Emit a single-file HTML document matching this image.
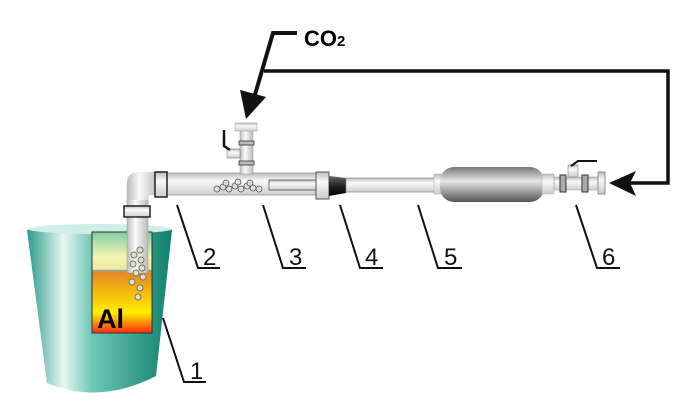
<!DOCTYPE html>
<html><head><style>html,body{margin:0;padding:0;background:#fff}svg{display:block}</style></head><body>
<svg width="700" height="419" viewBox="0 0 700 419" xmlns="http://www.w3.org/2000/svg" font-family="Liberation Sans, sans-serif">
<defs>
<linearGradient id="bk" x1="0" x2="1" y1="0" y2="0">
<stop offset="0" stop-color="#2a9a8a"/><stop offset="0.25" stop-color="#e8f7f2"/><stop offset="0.45" stop-color="#6cc7b4"/><stop offset="1" stop-color="#11806e"/></linearGradient>
<linearGradient id="win" x1="0" x2="0" y1="0" y2="1">
<stop offset="0" stop-color="#7fcfa5"/><stop offset="0.25" stop-color="#f5f6b0"/><stop offset="0.37" stop-color="#e8e8a0"/><stop offset="0.38" stop-color="#999"/><stop offset="0.41" stop-color="#e88a20"/><stop offset="0.8" stop-color="#ffee00"/><stop offset="1" stop-color="#ff2a10"/></linearGradient>
<linearGradient id="pv" x1="0" x2="0" y1="0" y2="1"><stop offset="0" stop-color="#bbb"/><stop offset="0.35" stop-color="#fafafa"/><stop offset="1" stop-color="#ccc"/></linearGradient>
<linearGradient id="ph" x1="0" x2="1" y1="0" y2="0"><stop offset="0" stop-color="#bbb"/><stop offset="0.4" stop-color="#fafafa"/><stop offset="1" stop-color="#bbb"/></linearGradient>
<linearGradient id="cyl" x1="0" x2="0" y1="0" y2="1"><stop offset="0" stop-color="#777"/><stop offset="0.4" stop-color="#e6e6e6"/><stop offset="1" stop-color="#555"/></linearGradient>
<linearGradient id="blk" x1="0" x2="0" y1="0" y2="1"><stop offset="0" stop-color="#666"/><stop offset="0.5" stop-color="#222"/><stop offset="1" stop-color="#000"/></linearGradient>
</defs>
<path d="M27 230 Q100 220 172 230 L156 376 Q100 405 47 383 Z" fill="url(#bk)"/>
<ellipse cx="100" cy="229" rx="72" ry="5" fill="#cfeee6"/>
<rect x="92" y="232" width="60" height="101" fill="url(#win)" stroke="#333" stroke-width="1"/>
<text x="97" y="328" font-size="27" font-weight="bold" fill="#000">Al</text>
<rect x="127" y="185" width="21" height="88" fill="url(#ph)" stroke="#999" stroke-width="0.5"/>
<path d="M127 195 L127 182 Q127 172 140 172 L158 172 L158 195 L148 195 L148 200 L127 200 Z" fill="url(#ph)"/>
<rect x="124" y="206" width="26" height="11" fill="url(#pv)" stroke="#222" stroke-width="1.5"/>
<g fill="#ddd" stroke="#775" stroke-width="1">
<circle cx="140" cy="250" r="3"/><circle cx="134" cy="255" r="3"/><circle cx="141" cy="260" r="3"/><circle cx="133" cy="264" r="3"/><circle cx="142" cy="268" r="3"/><circle cx="136" cy="273" r="3"/><circle cx="143" cy="277" r="3"/><circle cx="132" cy="282" r="3"/><circle cx="140" cy="288" r="3"/><circle cx="138" cy="297" r="3"/></g>
<rect x="160" y="173" width="158" height="22" fill="url(#pv)" stroke="#999" stroke-width="0.8"/>
<rect x="155" y="172" width="12" height="25" fill="url(#pv)" stroke="#222" stroke-width="1.5"/>
<rect x="269" y="180" width="48" height="10" fill="url(#pv)" stroke="#555" stroke-width="0.8"/>
<g fill="#ddd" stroke="#555" stroke-width="0.8">
<circle cx="217" cy="189" r="3"/><circle cx="223" cy="187" r="3"/><circle cx="229" cy="189" r="3"/><circle cx="235" cy="186" r="3"/><circle cx="241" cy="189" r="3"/><circle cx="247" cy="186" r="3"/><circle cx="253" cy="188" r="3"/><circle cx="259" cy="189" r="3"/><circle cx="226" cy="183" r="3"/><circle cx="238" cy="182" r="3"/><circle cx="250" cy="183" r="3"/></g>
<rect x="240" y="128" width="13" height="46" fill="url(#ph)" stroke="#999" stroke-width="0.5"/>
<rect x="235" y="123" width="22" height="8" fill="url(#pv)" stroke="#999" stroke-width="0.5"/>
<rect x="239" y="141" width="15" height="4" fill="#bbb" stroke="#333" stroke-width="0.8"/>
<rect x="239" y="161" width="15" height="4" fill="#bbb" stroke="#333" stroke-width="0.8"/>
<rect x="227" y="149" width="13" height="9" fill="url(#pv)" stroke="#666" stroke-width="0.5"/>
<path d="M224 130 L224 146 L230 150" stroke="#111" stroke-width="2.5" fill="none"/>
<rect x="316" y="172" width="13" height="27" fill="url(#pv)" stroke="#555" stroke-width="1"/>
<path d="M329 176 L346 178 L346 193 L329 196 Z" fill="url(#blk)"/>
<rect x="346" y="178" width="92" height="14" fill="url(#pv)" stroke="#888" stroke-width="0.7"/>
<rect x="434" y="174" width="12" height="20" fill="url(#pv)" stroke="#aaa" stroke-width="0.5"/>
<rect x="440" y="167" width="104" height="35" rx="14" fill="url(#cyl)"/>
<rect x="542" y="174" width="12" height="20" fill="url(#pv)" stroke="#aaa" stroke-width="0.5"/>
<rect x="554" y="177" width="46" height="13" fill="url(#pv)" stroke="#999" stroke-width="0.5"/>
<rect x="560" y="175" width="6" height="17" fill="#aaa" stroke="#333" stroke-width="1"/>
<rect x="582" y="175" width="6" height="17" fill="#aaa" stroke="#333" stroke-width="1"/>
<rect x="598" y="172" width="7" height="22" fill="url(#pv)" stroke="#777" stroke-width="0.8"/>
<rect x="568" y="165" width="10" height="12" fill="url(#pv)" stroke="#777" stroke-width="0.5"/>
<path d="M571 166 L578 161 L597 161" stroke="#111" stroke-width="2" fill="none"/>
<text x="304" y="46" font-size="22" font-weight="bold">CO<tspan font-size="15">2</tspan></text>
<path d="M297 33 L273 33 L254 98" stroke="#111" stroke-width="4" fill="none"/>
<polygon points="240,90 266,97 246,119" fill="#111"/>
<path d="M264 71 L668 71 L668 183 L628 183" stroke="#111" stroke-width="3.5" fill="none"/>
<polygon points="609,183 636,171 630,183 636,196" fill="#111"/>
<g stroke="#111" stroke-width="2" fill="none">
<path d="M163 318 L184 382 L206 382"/>
<path d="M177 205 L198 268 L220 268"/>
<path d="M263 205 L283 268 L306 268"/>
<path d="M340 205 L360 268 L383 268"/>
<path d="M418 205 L438 268 L462 268"/>
<path d="M576 205 L597 268 L620 268"/>
</g>
<g font-size="24" fill="#111">
<text x="190" y="379">1</text><text x="203" y="265">2</text><text x="289" y="265">3</text><text x="365" y="265">4</text><text x="444" y="265">5</text><text x="602" y="265">6</text>
</g>
</svg>
</body></html>
